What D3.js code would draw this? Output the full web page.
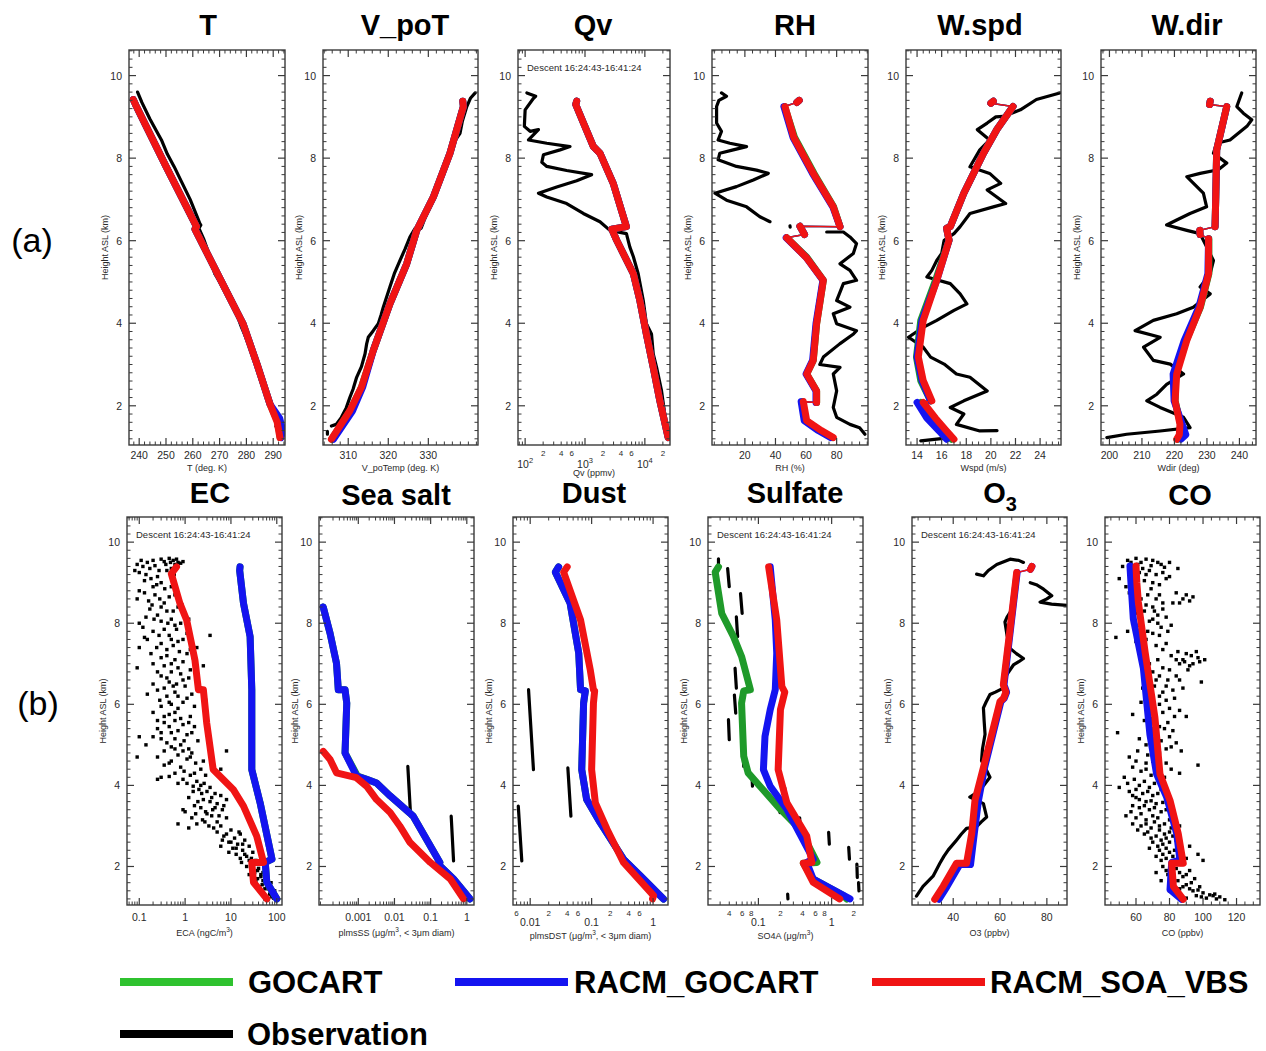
<!DOCTYPE html>
<html>
<head>
<meta charset="utf-8">
<script src="https://cdn.jsdelivr.net/npm/d3@7"></script>
<style>
body { margin: 0; background: #fff; }
text { font-family: "Liberation Sans", Arial, sans-serif; }
</style>
</head>
<body>
<svg id="chart" width="1266" height="1051"></svg>
<script>
// ---------- data: [value, height km]; null = break in the curve ----------
var tObs = [[239.4,9.6],[241,9.35],[244,8.95],[246.5,8.65],[248.3,8.44],[250.5,8.1],[253,7.8],[256,7.4],[259,7.0],[261.5,6.6],[262.6,6.42],[263,6.38],[262.3,6.3],[264,6.05],[266.5,5.6],[268.2,5.2],[270.5,4.95],[272.5,4.7],[274.5,4.47],[276.5,4.2],[278.2,3.9],[279.5,3.7],[282,3.3],[285,2.8],[288,2.3],[290,1.95],[291.5,1.6],[291,1.5]];
var tGocart = [[237.8,9.42],[238.6,9.3],[250,7.8],[261.4,6.34],[260.8,6.28],[270,5.1],[278.8,3.98],[284,3.0],[288.8,2.04],[291.8,1.6],[292.6,1.23]];
var tRacmGocart = [[237.8,9.42],[238.6,9.3],[250,7.8],[261.4,6.34],[260.8,6.28],[270,5.1],[278.8,3.98],[284,3.0],[288.8,2.04],[292.4,1.7],[293.6,1.4],[292.9,1.23]];
var tRacmSoa = [[237.8,9.42],[238.6,9.3],[250,7.8],[261.4,6.34],[260.8,6.28],[270,5.1],[278.8,3.98],[284,3.0],[288.8,2.04],[291.5,1.6],[292.5,1.23]];

var vObs = [[305.8,1.51],[307,1.55],[308.3,1.72],[309.5,1.95],[310.4,2.2],[311.2,2.4],[312.1,2.69],[313.3,2.95],[314.2,3.26],[314.6,3.5],[315,3.66],[316.25,3.82],[317.5,3.99],[318.2,4.2],[318.75,4.39],[320.4,4.88],[321.5,5.2],[322.9,5.52],[324.2,5.8],[325.4,6.09],[326.7,6.3],[328.2,6.3],[329.6,6.66],[331.25,7.06],[332,7.3],[333.3,7.47],[334.5,7.8],[335.4,8.04],[336.5,8.4],[337.9,8.6],[338.5,8.9],[339.6,9.25],[340.5,9.45],[341.7,9.58],null,[304.8,1.38],[304.8,1.31]];
var vGocart = [[305.9,1.19],[310.5,1.88],[313.3,2.45],[316.25,3.34],[320.4,4.47],[324.6,5.44],[327.1,6.25],[331.25,7.06],[335.4,8.12],[338.75,9.25],[338.6,9.38]];
var vRacmGocart = [[306.3,1.19],[311.1,1.88],[313.6,2.45],[316.25,3.34],[320.4,4.47],[324.6,5.44],[327.1,6.25],[331.25,7.06],[335.4,8.12],[338.75,9.25],[338.6,9.38]];
var vRacmSoa = [[305.8,1.19],[310.4,1.88],[313.3,2.45],[316.25,3.34],[320.4,4.47],[324.6,5.44],[327.1,6.25],[331.25,7.06],[335.4,8.12],[338.75,9.25],[338.6,9.38]];

var qvObs = [[107,9.58],[150,9.5],[138,9.45],[100,9.17],[97,8.77],[121,8.65],[167,8.69],[114,8.44],[230,8.36],[562,8.28],[383,8.2],[202,8.08],[190,7.9],[230,7.8],[494,7.7],[1290,7.6],[726,7.45],[337,7.3],[167,7.15],[230,7.06],[494,6.9],[937,6.66],[1778,6.46],[2610,6.25],[4920,6.17],[5600,5.85],[6430,5.61],[7740,5.2],[9400,4.55],[10600,3.99],[12900,3.74],[13800,3.26],[15700,2.93],[19000,2.36],[21500,1.8],[22800,1.39]];
var qvGocart = [[726,9.38],[700,9.3],[1380,8.28],[1778,8.12],[2960,7.39],[4920,6.34],[2800,6.28],[2960,6.2],[3380,6.01],[6430,5.2],[8250,4.55],[10600,3.74],[13800,2.93],[17800,2.12],[24500,1.23]];
var qvRacmGocart = [[726,9.38],[700,9.3],[1380,8.28],[1778,8.12],[2960,7.39],[4920,6.34],[2800,6.28],[2960,6.2],[3380,6.01],[6430,5.2],[8250,4.55],[10600,3.74],[13800,2.93],[17800,2.12],[24500,1.23]];
var qvRacmSoa = [[726,9.38],[700,9.3],[1380,8.28],[1778,8.12],[2960,7.39],[4920,6.34],[2800,6.28],[2960,6.2],[3380,6.01],[6430,5.2],[8250,4.55],[10600,3.74],[13800,2.93],[17800,2.12],[24500,1.23]];

var rhObs = [[4.7,9.58],[8,9.5],[3,9.4],[1.5,9.25],[1.5,8.85],[4.7,8.65],[2.5,8.44],[10.2,8.36],[21.1,8.28],[12.4,8.2],[3.6,8.12],[2.5,7.96],[14.5,7.8],[27.6,7.71],[35.3,7.63],[25.5,7.47],[14.5,7.31],[0.4,7.15],[8,6.98],[21.1,6.82],[29.8,6.58],[36.4,6.46],null,[49.5,6.36],[49.6,6.33],null,[73.5,6.21],[84.4,6.21],[88.7,6.09],[93,5.93],[90.9,5.69],[82.2,5.44],[88.7,5.28],[93,5.04],[84.4,4.96],[80,4.55],[88.7,4.39],[77.8,4.23],[80,3.99],[93,3.82],[91,3.74],[82,3.5],[71.3,3.18],[69,3.0],[82.2,2.93],[77.8,2.77],[80,2.36],[77.8,1.96],[80,1.72],[88.7,1.55],[95,1.47],[98.5,1.31]];
var rhGocart = [[55.5,9.4],[54,9.35],null,[46,9.25],[52.5,8.5],[65.2,7.63],[78,6.82],[82.2,6.34],null,[56,6.35],[59,6.15],null,[47.3,6.07],[60.5,5.6],[71.3,5.04],[66.9,3.99],[64.7,3.1],[60.4,2.77],[66.9,2.36],[66.9,2.08],null,[57.5,2.1],[59.8,1.64],[69,1.4],[77,1.23]];
var rhRacmGocart = [[55.5,9.4],[54,9.35],null,[45.5,9.25],[51.5,8.5],[64.2,7.63],[77.5,6.82],[82.2,6.34],null,[56,6.35],[59,6.15],null,[47,6.07],[60,5.6],[71,5.04],[66.5,3.99],[64.3,3.1],[60,2.77],[66.5,2.36],[66.5,2.08],null,[56.8,2.1],[58.8,1.64],[68,1.4],[76,1.23]];
var rhRacmSoa = [[55.5,9.4],[54,9.35],null,[46.2,9.25],[52,8.5],[64.7,7.63],[77.8,6.82],[82.2,6.34],null,[56,6.35],[59,6.15],null,[47.3,6.07],[60,5.6],[71.3,5.04],[66.9,3.99],[64.7,3.1],[60.4,2.77],[66.9,2.36],[66.9,2.08],null,[58.2,2.1],[60.4,1.64],[70,1.4],[77.8,1.23]];

var wsObs = [[25.6,9.58],[23.7,9.42],[22.4,9.17],[21.0,9.01],[20.4,9.0],[19.7,8.85],[18.9,8.69],[19.9,8.44],[19.1,8.2],[18.3,7.79],[19.9,7.63],[20.8,7.39],[19.7,7.23],[21.2,6.9],[20.2,6.82],[18.3,6.66],[17.5,6.34],[17.0,6.17],[16.2,6.01],[16.0,5.69],[15.6,5.52],[15.2,5.28],[14.8,5.12],[16.7,4.96],[17.5,4.71],[18.05,4.47],[17.0,4.31],[15.6,4.07],[14.5,3.9],[13.3,3.66],[14.5,3.42],[15.1,3.18],[16.2,3.01],[17.2,2.77],[18.3,2.69],[19.7,2.36],[17.8,2.12],[16.7,1.96],[17.8,1.8],[17.2,1.55],[19.1,1.39],[20.5,1.4],null,[16.7,1.23],[14.3,1.15]];
var wsGocart = [[20.2,9.38],[20.0,9.33],null,[21.8,9.25],[20.5,8.7],[19.4,8.12],[17.8,7.15],[16.7,6.34],[16.4,6.3],[16.6,6.01],[15.5,5.04],[14.3,4.07],[13.95,3.18],[14.3,2.61],[15.1,2.12],null,[14.3,2.08],[15.2,1.7],[16.2,1.39],[16.8,1.19]];
var wsRacmGocart = [[20.2,9.38],[20.0,9.33],null,[21.8,9.25],[20.5,8.7],[19.4,8.12],[17.8,7.15],[16.7,6.34],[16.4,6.3],[16.6,6.01],[15.6,5.04],[14.4,4.07],[14.0,3.18],[14.4,2.61],[15.1,2.12],null,[14.0,2.08],[14.8,1.7],[15.8,1.39],[16.4,1.19]];
var wsRacmSoa = [[20.2,9.38],[20.0,9.33],null,[21.8,9.25],[20.5,8.7],[19.4,8.12],[17.8,7.15],[16.7,6.34],[16.4,6.3],[16.6,6.01],[15.6,5.04],[14.5,4.07],[14.1,3.18],[14.5,2.61],[15.2,2.12],null,[14.5,2.08],[15.5,1.7],[16.4,1.39],[17,1.19]];

var wdObs = [[240.7,9.58],[239.2,9.25],[241.2,9.09],[243.8,8.93],[242.3,8.77],[237.1,8.44],[233,8.36],[232,8.12],[236.1,7.88],[233.5,7.72],[227.9,7.63],[223.8,7.55],[228.9,7.15],[229.9,6.82],[224.8,6.66],[220.7,6.5],[217.6,6.38],[223.8,6.25],[227.9,6.17],[229.9,5.85],[232,5.52],[231,5.2],[227.9,4.88],[231,4.71],[225.8,4.39],[220.7,4.23],[213.5,4.07],[207.9,3.82],[215.6,3.66],[210.5,3.42],[213.5,3.1],[218.7,3.01],[222.8,2.77],[217.6,2.52],[214.6,2.28],[211.5,2.12],[215.6,1.96],[222.8,1.72],[224.8,1.47],[215.6,1.39],[205.3,1.31],[199.2,1.23]];
var wdGocart = [[231,9.38],[230.8,9.3],null,[236.1,9.25],[233,8.2],[232.7,7.0],[232.5,6.34],null,[227.8,6.25],[227.9,6.15],null,[230.6,6.05],[230.6,5.2],[228,4.39],[223.6,3.58],[220.4,2.77],[220.2,2.12],[221.9,1.55],[221.7,1.3],[220.9,1.19]];
var wdRacmGocart = [[231,9.38],[230.8,9.3],null,[236.1,9.25],[233,8.2],[232.7,7.0],[232.5,6.34],null,[227.8,6.25],[227.9,6.15],null,[230.5,6.05],[230.3,5.2],[227.5,4.39],[223,3.58],[219.6,2.77],[219.9,2.12],[222.4,1.55],[223.5,1.3],[222,1.19]];
var wdRacmSoa = [[231,9.38],[230.8,9.3],null,[236.1,9.25],[233,8.2],[232.7,7.0],[232.5,6.34],null,[227.8,6.25],[227.9,6.15],null,[230.5,6.05],[230.5,5.2],[227.9,4.39],[223.8,3.58],[220.7,2.77],[220.2,2.12],[221.7,1.55],[221.5,1.3],[220.7,1.19]];

var ecObs = [[0.09,9.45],[0.12,9.4],[0.15,9.5],[0.2,9.55],[0.3,9.58],[0.35,9.52],[0.45,9.6],[0.55,9.55],[0.6,9.45],[0.5,9.35],[0.7,9.5],[0.8,9.48],[0.1,9.25],[0.14,9.2],[0.18,9.1],[0.25,9.15],[0.4,9.3],[0.3,9.0],[0.2,8.9],
  [0.1,8.8],[0.13,8.75],[0.22,8.7],[0.28,8.6],[0.35,8.5],[0.45,8.65],[0.6,8.7],[0.7,8.4],[0.4,8.3],[0.25,8.2],[0.17,8.35],[0.1,8.0],[0.12,7.9],[0.3,8.05],[0.5,8.1],[0.8,8.0],[1.2,8.1],[0.35,7.85],[0.6,7.95],
  [0.2,7.8],[0.45,7.7],[0.9,7.6],[1.1,7.75],[3.5,7.7],[0.3,7.5],[0.55,7.45],[0.1,7.4],[0.15,7.6],[0.75,7.3],[1.3,7.35],[0.4,7.2],[0.6,7.1],[0.9,7.05],[1.5,7.15],[2.5,6.95],[0.35,6.95],[0.2,7.0],
  [0.09,6.9],[0.5,6.8],[0.8,6.75],[1.2,6.65],[0.3,6.7],[0.45,6.55],[0.65,6.5],[1.0,6.45],[1.8,6.55],[2.2,6.4],[0.25,6.35],[0.6,6.3],[0.4,6.2],[0.15,6.25],[1.1,6.15],[2.8,6.1],[0.9,6.05],[0.5,6.0],[0.3,5.95],[0.7,5.9],
  [0.2,5.8],[0.45,5.75],[1.3,5.7],[0.6,5.6],[0.35,5.55],[0.9,5.5],[1.6,5.45],[0.25,5.4],[0.5,5.3],[1.1,5.25],[0.3,5.15],[0.2,5.2],[0.1,5.2],[0.14,5.0],[0.4,5.05],[0.8,5.0],[1.9,5.1],[0.6,4.9],[0.9,4.85],[1.4,4.8],[8,4.85],
  [0.25,4.7],[0.09,4.7],[0.5,4.6],[1.1,4.65],[1.7,4.55],[0.35,4.5],[0.8,4.45],[2.2,4.4],[0.6,4.3],[1.3,4.25],[0.3,4.2],[0.45,4.22],[0.9,4.15],[1.8,4.1],[2.6,4.05],[0.7,4.05],[1.5,3.98],[6,4.4],
  [2.0,3.9],[3.0,3.85],[4.5,3.8],[6,3.75],[1.2,3.7],[2.5,3.65],[3.5,3.6],[5,3.55],[7,3.5],[1.6,3.5],[2.2,3.45],[4,3.4],[1.0,3.35],[0.9,3.4],[3,3.3],[5.5,3.25],[1.4,3.2],[2.4,3.15],[8,3.2],[1.8,3.05],[3.3,3.0],[0.7,3.05],[5,3.1],[1.2,2.95],
  [10,2.9],[15,2.85],[8,2.8],[12,2.7],[20,2.65],[9,2.6],[14,2.55],[25,2.5],[11,2.45],[18,2.4],[30,2.35],[13,2.3],[22,2.25],[6,2.5],[28,2.2],[35,2.15],[17,2.1],[40,2.05],[45,2.2],
  [30,1.95],[38,1.9],[50,1.85],[25,1.8],[45,1.75],[60,1.7],[35,1.65],[55,1.6],[70,1.55],[42,1.5],[65,1.45],[80,1.4],[48,1.35],[75,1.3],[90,1.4],[60,1.25],[85,1.22],[55,1.2],
  [0.08,9.3],[0.11,9.55],[0.17,9.35],[0.22,9.42],[0.27,9.3],[0.38,9.45],[0.48,9.5],[0.65,9.58],[0.9,9.52],[0.58,9.2],[0.13,9.05],[0.24,8.95],[0.36,8.85],[0.5,8.9],[0.09,8.6],[0.16,8.55],[0.19,8.45],[0.3,8.4],[0.55,8.3],[0.85,8.45],[0.14,8.15],[0.21,8.1],[0.42,8.0],[0.65,7.85],[0.27,7.7],[0.13,7.65],[0.5,7.6],[0.7,7.55],[0.24,7.4],[0.4,7.35],[1.8,7.4],[0.18,7.25],[0.3,7.15],[1.1,7.25],[0.5,7.0],[0.7,6.9],[1.3,6.85],[0.25,6.8],[0.4,6.65],[0.9,6.6],[0.55,6.45],[0.35,6.4],[0.2,6.5],[0.7,6.2],[1.4,6.25],[0.28,6.1],[0.45,6.05],[1.6,5.95],[0.6,5.8],[0.35,5.7],[0.8,5.65],[0.25,5.6],[1.2,5.55],[0.45,5.45],[0.7,5.35],[0.3,5.3],[1.4,5.3],[0.6,5.15],[0.95,5.1],[0.5,4.95],[1.2,4.9],[0.35,4.85],[0.7,4.75],[1.3,4.7],[2.5,4.6],[0.45,4.55],[0.95,4.35],[1.6,4.3],[2.8,4.25],[0.25,4.15],[1.1,4.05],[2.2,4.0],[3.5,3.95],[1.5,3.85],[2.3,3.8],[3.8,3.7],[8,3.65],[1.9,3.6],[4.5,3.45],[6.5,3.4],[2.8,3.35],[3.8,3.25],[1.7,3.3],[6,3.0],[2.7,3.1],[4.2,2.95],[5,2.85],[7,2.75],[16,2.8],[10,2.6],[6.5,2.65],[18,2.55],[13,2.45],[9,2.35],[20,2.3],[16,2.2],[25,2.15],[30,2.05],[22,2.0],[40,1.95],[28,1.9],[55,1.9],[33,1.85],[45,1.8],[60,1.75],[38,1.7],[50,1.65],[75,1.6],[48,1.55],[60,1.5],[55,1.45],[85,1.35],[70,1.32],[95,1.28],[65,1.2],[78,1.25]];
var ecGocart = [[15.8,9.39],[15.5,9.3],[18.8,8.49],[26.2,7.67],[28.5,6.36],[28.5,4.39],[43.3,3.57],[78.6,2.18],[56,2.1],[60.6,1.61],[100,1.2]];
var ecRacmGocart = [[15.8,9.39],[15.5,9.3],[18.8,8.49],[26.2,7.67],[28.5,6.36],[28.5,4.39],[43.3,3.57],[78.6,2.18],[56,2.1],[60.6,1.61],[100,1.2]];
var ecRacmSoa = [[0.65,9.39],[0.5,9.22],[0.77,8.49],[1.08,8.08],[1.64,7.09],[1.95,6.36],[2.5,6.36],[2.96,5.54],[4.1,4.39],[6.7,4.15],[11.2,3.9],[18.8,3.49],[36.5,2.75],[51.4,2.1],[28.5,2.1],[31,1.61],[60.6,1.2]];

var ssObs = [[0.0234,4.47],[0.028,3.24],null,[0.37,3.24],[0.43,2.14]];
var ssGocart = [[1.07e-4,8.4],[1.66e-4,7.75],[2.5e-4,7.01],[2.8e-4,6.36],[4.3e-4,6.36],[4.8e-4,6.03],[4.3e-4,4.8],[9.5e-4,4.23],[1.7e-3,4.15],[3.2e-3,4.06],[7.6e-3,3.74],[0.033,3.24],[0.18,2.1],[0.16,2.06],[0.43,1.69],[1.23,1.2]];
var ssRacmGocart = [[1.07e-4,8.4],[1.66e-4,7.75],[2.5e-4,7.01],[2.8e-4,6.36],[4.3e-4,6.36],[4.8e-4,6.03],[4.3e-4,4.8],[8.9e-4,4.23],[1.7e-3,4.15],[3.2e-3,4.06],[7.6e-3,3.74],[0.033,3.24],[0.18,2.1],[0.16,2.06],[0.43,1.69],[1.23,1.2]];
var ssRacmSoa = [[1.07e-4,4.84],[1.66e-4,4.64],[2.5e-4,4.31],[8.9e-4,4.19],[1.7e-3,3.98],[3.2e-3,3.65],[7.6e-3,3.33],[0.014,3.0],[0.027,2.59],[0.098,2.1],[0.35,1.69],[0.81,1.2]];

var dustObs = [[0.0094,6.36],[0.0113,4.39],null,[0.041,4.43],[0.046,3.24],null,[0.0064,3.49],[0.0073,2.14]];
var dustGocart = [[0.029,9.39],[0.0257,9.26],[0.0447,8.49],[0.0617,7.26],[0.066,6.36],[0.079,6.33],[0.074,6.03],[0.069,4.39],[0.083,3.65],[0.138,3.08],[0.33,2.18],[0.62,1.77],[1.48,1.2]];
var dustRacmGocart = [[0.029,9.39],[0.0257,9.26],[0.0447,8.49],[0.0617,7.26],[0.066,6.36],[0.079,6.33],[0.074,6.03],[0.069,4.39],[0.083,3.65],[0.138,3.08],[0.33,2.18],[0.62,1.77],[1.48,1.2]];
var dustRacmSoa = [[0.04,9.39],[0.035,9.26],[0.066,8.08],[0.095,6.85],[0.107,6.36],[0.112,6.33],[0.107,6.03],[0.1,4.39],[0.115,3.57],[0.178,2.92],[0.33,2.1],[1.02,1.28],[0.98,1.2]];

var so4Obs = [[0.0285,9.59],[0.0285,9.43],null,[0.038,9.35],[0.04,8.9],null,[0.057,8.73],[0.06,8.24],null,[0.05,8.16],[0.052,7.67],null,[0.048,6.89],[0.05,6.4],null,[0.047,6.23],[0.049,5.78],null,[0.039,5.62],[0.04,5.13],null,[0.062,4.72],[0.063,4.47],null,[0.082,4.19],[0.083,3.98],null,[0.229,3.94],[0.232,3.7],null,[0.195,3.57],[0.197,3.33],null,[0.366,3.2],[0.37,2.96],null,[0.91,2.84],[0.93,2.55],null,[1.71,2.47],[1.75,2.18],null,[2.21,2.06],[2.24,1.73],null,[2.33,1.6],[2.36,1.4],null,[0.251,1.32],[0.253,1.2]];
var so4Gocart = [[0.0285,9.39],[0.0257,9.26],[0.0316,8.24],[0.0457,7.67],[0.0589,7.18],[0.0776,6.36],[0.063,6.33],[0.0589,6.03],[0.063,4.72],[0.0724,4.31],[0.105,3.98],[0.2,3.41],[0.37,2.92],[0.63,2.1],[0.41,2.08],[0.56,1.69],[1.45,1.28],[1.6,1.2]];
var so4RacmGocart = [[0.145,9.39],[0.17,8.08],[0.178,7.26],[0.17,6.36],[0.145,5.87],[0.123,5.21],[0.117,4.39],[0.145,3.98],[0.245,3.41],[0.56,2.18],[0.457,2.1],[0.56,1.69],[1.78,1.2]];
var so4RacmSoa = [[0.138,9.39],[0.178,8.08],[0.209,6.44],[0.229,6.3],[0.2,5.87],[0.186,4.39],[0.245,3.57],[0.457,2.75],[0.537,2.1],[0.41,2.08],[0.56,1.61],[1.29,1.2]];

var o3Obs = [[50,9.21],[52.9,9.17],[55,9.3],[58.6,9.45],[64.3,9.58],[68,9.55],[70,9.5],null,[72.9,9.0],[75.5,8.95],[78.6,8.84],[82.1,8.68],[80,8.6],[77.1,8.52],[82,8.47],[88.6,8.44],null,[64.3,8.27],[63,8.15],[62.1,8.03],[63,7.7],[64.3,7.38],[67,7.25],[70,7.13],[68,7.05],[65.7,6.97],[62.9,6.73],[61.4,6.4],[58,6.3],[55.7,6.24],[54,6.05],[52.9,5.91],[53.2,5.6],[53.6,5.26],[52.5,4.9],[52.1,4.61],[54,4.4],[55.7,4.2],[53,4.0],[51.4,3.87],[47.1,3.71],[52.9,3.55],[54.3,3.22],[52,3.1],[50,2.98],[45.7,2.94],[43.5,2.8],[41.4,2.65],[37.9,2.41],[36,2.25],[34.3,2.08],[31.4,1.76],[29,1.62],[27.1,1.51],[24.3,1.27]];
var o3RacmGocart = [[73.6,9.4],[73,9.33],null,[67.3,9.25],[64.5,7.87],[61.7,6.48],[62.8,6.3],[61.8,6.15],[60.4,6.07],[53.4,4.44],[50.8,3.63],[49,2.81],[47.4,2.05],[42.8,2.05],[37.4,1.51],[33.9,1.19]];
var o3RacmSoa = [[73.6,9.4],[73,9.33],null,[67.1,9.25],[64.3,7.87],[61.4,6.48],[62.5,6.3],[61.5,6.15],[60,6.07],[52.9,4.44],[49.3,3.63],[47.9,2.81],[45.7,2.08],[41.4,2.08],[35.7,1.51],[32.1,1.19]];

var coObs = [[52,9.4],[55,9.55],[60,9.6],[63,9.5],[66,9.58],[70,9.55],[75,9.45],[80,9.5],[68,9.3],[72,9.2],[62,9.25],[50,9.1],[58,9.0],[65,9.05],[78,9.1],[85,9.35],[74,8.95],[54,8.9],
  [60,8.8],[67,8.7],[72,8.6],[76,8.5],[84,8.75],[88,8.6],[92,8.55],[86,8.5],[94,8.65],[70,8.4],[65,8.3],[73,8.2],[78,8.15],[68,8.05],[58,8.0],[62,7.95],[75,7.9],[81,7.95],[48,7.65],[55,7.8],
  [70,7.75],[66,7.6],[74,7.7],[78,7.5],[64,7.45],[60,7.55],[85,7.3],[90,7.25],[93,7.2],[96,7.3],[88,7.1],[98,7.05],[101,7.1],[92,6.95],[86,7.0],[73,7.1],[76,6.9],[68,7.0],[80,6.85],
  [84,6.7],[72,6.6],[66,6.5],[78,6.45],[88,6.4],[99,6.55],[76,6.3],[70,6.2],[83,6.15],[63,6.05],[74,6.0],[58,5.75],[80,5.9],[86,5.85],[65,5.6],[90,5.7],
  [72,5.5],[77,5.4],[82,5.35],[68,5.25],[49,5.3],[62,5.15],[75,5.1],[84,5.05],[70,4.95],[78,4.9],[87,4.85],
  [56,4.7],[60,4.6],[66,4.55],[72,4.5],[81,4.4],[97,4.5],[63,4.35],[69,4.25],[77,4.2],[59,4.15],[65,4.1],[71,4.05],[53,4.2],[62,4.0],[68,3.95],[50,3.95],[75,3.9],
  [56,3.85],[64,3.8],[70,3.75],[60,3.7],[66,3.6],[72,3.55],[79,3.5],[58,3.5],[62,3.45],[68,3.4],[75,3.35],[82,3.3],[54,3.25],[60,3.2],[66,3.15],[71,3.1],[77,3.05],[86,3.0],[63,3.0],[69,2.95],[74,2.9],[80,2.85],[65,2.8],[72,2.75],[78,2.7],[84,2.65],[70,2.6],[76,2.55],[92,2.5],[68,2.45],
  [74,2.4],[80,2.35],[86,2.3],[72,2.25],[78,2.2],[90,2.2],[97,2.3],[100,2.15],[76,2.0],[84,1.95],[92,1.9],[72,1.85],[79,1.8],[88,1.75],[95,1.7],[75,1.65],[82,1.6],[90,1.55],[98,1.5],[86,1.45],[94,1.4],[100,1.35],[104,1.3],[107,1.32],[110,1.25],[102,1.22],[96,1.28],[113,1.18],[84,1.3],
  [57,9.5],[61,9.45],[64,9.35],[69,9.42],[73,9.5],[77,9.38],[59,9.15],[66,9.2],[70,9.0],[76,9.25],[80,9.15],[56,8.75],[63,8.6],[69,8.85],[74,8.7],[82,8.5],[90,8.7],[66,8.45],[71,8.3],[76,8.35],[60,8.25],[70,8.1],[64,7.9],[73,8.0],[79,7.8],[67,7.8],[72,7.45],[76,7.35],[81,7.2],[84,7.1],[89,7.05],[94,7.0],[97,7.15],[91,6.85],[70,6.8],[74,6.7],[79,6.6],[86,6.6],[64,6.4],[71,6.45],[82,6.35],[74,6.2],[78,6.1],[68,5.95],[76,5.8],[83,5.7],[70,5.65],[79,5.55],[74,5.45],[69,5.4],[80,5.2],[73,5.2],[66,5.0],[81,4.95],[61,4.85],[74,4.8],[67,4.75],[70,4.6],[78,4.55],[58,4.45],[66,4.4],[74,4.35],[86,4.3],[55,4.05],[60,3.9],[67,3.85],[73,3.8],[58,3.75],[62,3.65],[69,3.62],[76,3.58],[65,3.5],[71,3.45],[78,3.4],[57,3.35],[63,3.3],[70,3.25],[73,3.2],[80,3.15],[58,3.05],[66,3.05],[74,3.0],[81,2.95],[61,2.9],[67,2.85],[77,2.8],[82,2.75],[69,2.7],[75,2.65],[80,2.6],[73,2.5],[78,2.45],[83,2.4],[76,2.3],[82,2.25],[75,2.15],[87,2.05],[81,2.0],[78,1.9],[86,1.85],[90,1.8],[80,1.7],[85,1.65],[93,1.6],[88,1.5],[92,1.45],[80,1.4],[97,1.42],[99,1.25],[106,1.28],[108,1.2],[90,1.22]];
var coRacmGocart = [[56.4,9.41],[57,9.0],[58.4,8.11],[64.4,6.89],[68.3,5.26],[72.3,4.28],[78.3,3.71],[84.3,2.81],[86.2,2.16],[81.3,2.1],[80.3,1.43],[87.2,1.19]];
var coRacmSoa = [[60,9.41],[60.5,9.0],[61.4,8.52],[65.4,7.3],[71.3,5.67],[74.3,4.28],[80.3,3.63],[85.2,2.81],[88.2,2.08],[81.3,2.08],[82.3,1.51],[88.2,1.19]];

// tick values
var heightTicks = [2, 4, 6, 8, 10];
var tTicks = [240, 250, 260, 270, 280, 290];
var vTicks = [310, 320, 330];
var qvTicks = [100, 1000, 10000];
var qvMinorLabels = [200, 400, 600, 2000, 4000, 6000, 20000];
var rhTicks = [20, 40, 60, 80];
var wsTicks = [14, 16, 18, 20, 22, 24];
var wdTicks = [200, 210, 220, 230, 240];
var ecTicks = [0.1, 1, 10, 100];
var ssTicks = [0.001, 0.01, 0.1, 1];
var dustTicks = [0.01, 0.1, 1];
var dustMinorLabels = [0.006, 0.02, 0.04, 0.06, 0.2, 0.4, 0.6];
var so4Ticks = [0.1, 1];
var so4MinorLabels = [0.04, 0.06, 0.08, 0.2, 0.4, 0.6, 0.8, 2];
var o3Ticks = [40, 60, 80];
var coTicks = [60, 80, 100, 120];

// ---------- layout ----------
var svg = d3.select("#chart");
var rows = { a: { top: 50, bottom: 445, titleY: 35 }, b: { top: 517, bottom: 905, titleY: 503 } };
var heightDomain = [1.05, 10.62];
var descent = "Descent 16:24:43-16:41:24";

var panels = [
  { title: "T", titleX: 208, row: "a", x0: 129, x1: 285, domain: [236.2, 294.4], ticks: tTicks, minor: 2,
    label: ["T (deg. K)"], obs: tObs, green: tGocart, blue: tRacmGocart, red: tRacmSoa },
  { title: "V_poT", titleX: 405, row: "a", x0: 323, x1: 478, domain: [303.7, 342.4], ticks: vTicks, minor: 2,
    label: ["V_poTemp (deg. K)"], obs: vObs, green: vGocart, blue: vRacmGocart, red: vRacmSoa },
  { title: "Qv", titleX: 593, row: "a", x0: 518, x1: 670, log: true, domain: [76, 26300], ticks: qvTicks, power: true,
    minorLabels: qvMinorLabels, label: ["Qv (ppmv)"], labelDy: 5, desc: true,
    obs: qvObs, green: qvGocart, blue: qvRacmGocart, red: qvRacmSoa },
  { title: "RH", titleX: 795, row: "a", x0: 712, x1: 868, domain: [-1.5, 100.5], ticks: rhTicks, minor: 5,
    label: ["RH (%)"], obs: rhObs, green: rhGocart, blue: rhRacmGocart, red: rhRacmSoa },
  { title: "W.spd", titleX: 980, row: "a", x0: 906, x1: 1061, domain: [13.1, 25.7], ticks: wsTicks, minor: 0.5,
    label: ["Wspd (m/s)"], obs: wsObs, green: wsGocart, blue: wsRacmGocart, red: wsRacmSoa },
  { title: "W.dir", titleX: 1187, row: "a", x0: 1101, x1: 1256, domain: [197.4, 245.1], ticks: wdTicks, minor: 2,
    label: ["Wdir (deg)"], obs: wdObs, green: wdGocart, blue: wdRacmGocart, red: wdRacmSoa },
  { title: "EC", titleX: 210, row: "b", x0: 127, x1: 282, log: true, domain: [0.054, 130], ticks: ecTicks,
    label: ["ECA (ngC/m", "3", ")"], desc: true, dots: true,
    obs: ecObs, green: ecGocart, blue: ecRacmGocart, red: ecRacmSoa },
  { title: "Sea salt", titleX: 396, row: "b", x0: 319, x1: 474, log: true, domain: [8.2e-5, 1.58], ticks: ssTicks,
    label: ["plmsSS (\u03bcg/m", "3", ", < 3\u03bcm diam)"], obs: ssObs, green: ssGocart, blue: ssRacmGocart, red: ssRacmSoa },
  { title: "Dust", titleX: 594, row: "b", x0: 513, x1: 668, log: true, domain: [0.00525, 1.75], ticks: dustTicks,
    minorLabels: dustMinorLabels, label: ["plmsDST (\u03bcg/m", "3", ", < 3\u03bcm diam)"], labelDy: 3,
    obs: dustObs, green: dustGocart, blue: dustRacmGocart, red: dustRacmSoa },
  { title: "Sulfate", titleX: 795, row: "b", x0: 708, x1: 863, log: true, domain: [0.0205, 2.68], ticks: so4Ticks,
    minorLabels: so4MinorLabels, label: ["SO4A (\u03bcg/m", "3", ")"], labelDy: 3, desc: true,
    obs: so4Obs, green: so4Gocart, blue: so4RacmGocart, red: so4RacmSoa },
  { title: "O", sub: "3", titleX: 1000, row: "b", x0: 912, x1: 1067, domain: [22.4, 88.6], ticks: o3Ticks, minor: 5,
    label: ["O3 (ppbv)"], desc: true, obs: o3Obs, blue: o3RacmGocart, red: o3RacmSoa },
  { title: "CO", titleX: 1190, row: "b", x0: 1105, x1: 1260, domain: [41.5, 134], ticks: coTicks, minor: 5,
    label: ["CO (ppbv)"], dots: true, obs: coObs, blue: coRacmGocart, red: coRacmSoa }
];

var colors = { green: "#1f9a2a", blue: "#1414f0", red: "#f01414", obs: "#000" };

function minorValues(p) {
  var out = [];
  var d0 = p.domain[0], d1 = p.domain[1];
  if (p.log) {
    for (var e = Math.floor(Math.log10(d0)); e <= Math.ceil(Math.log10(d1)); e++) {
      for (var k = 2; k <= 9; k++) {
        var v = k * Math.pow(10, e);
        if (v > d0 && v < d1) out.push(v);
      }
    }
  } else {
    var s = p.minor;
    for (var v2 = Math.ceil(d0 / s) * s; v2 < d1; v2 += s) {
      var r = Math.round(v2 * 1000) / 1000;
      if (p.ticks.indexOf(r) < 0) out.push(r);
    }
  }
  return out;
}

function fmtLog(v) {
  if (v >= 1) return String(v);
  return String(+v.toPrecision(1));
}

panels.forEach(function(p, i) {
  var r = rows[p.row];
  var x = (p.log ? d3.scaleLog() : d3.scaleLinear()).domain(p.domain).range([p.x0, p.x1]);
  var y = d3.scaleLinear().domain(heightDomain).range([r.bottom, r.top]);
  var g = svg.append("g");
  var w = p.x1 - p.x0, h = r.bottom - r.top;

  svg.append("clipPath").attr("id", "clip" + i)
    .append("rect").attr("x", p.x0).attr("y", r.top).attr("width", w).attr("height", h);
  var plot = g.append("g").attr("clip-path", "url(#clip" + i + ")");

  var broken = d3.line().defined(function(d) { return d !== null; })
    .x(function(d) { return x(d[0]); }).y(function(d) { return y(d[1]); });
  var joined = d3.line().x(function(d) { return x(d[0]); }).y(function(d) { return y(d[1]); });

  // observations
  if (p.dots) {
    plot.selectAll("rect.obs").data(p.obs).enter().append("rect")
      .attr("class", "obs")
      .attr("x", function(d) { return x(d[0]) - 1.7; })
      .attr("y", function(d) { return y(d[1]) - 1.7; })
      .attr("width", 3.4).attr("height", 3.4)
      .attr("fill", colors.obs);
  } else {
    plot.append("path").attr("d", broken(p.obs))
      .attr("fill", "none").attr("stroke", colors.obs).attr("stroke-width", 3.2)
      .attr("stroke-linejoin", "round").attr("stroke-linecap", "round");
  }

  // model runs: green, blue, red (red on top); thin connectors across the breaks
  ["green", "blue", "red"].forEach(function(key) {
    var s = p[key];
    if (!s) return;
    var pts = s.filter(function(d) { return d !== null; });
    plot.append("path").attr("d", joined(pts))
      .attr("fill", "none").attr("stroke", colors[key]).attr("stroke-width", 1.5);
    plot.append("path").attr("d", broken(s))
      .attr("fill", "none").attr("stroke", colors[key]).attr("stroke-width", 7)
      .attr("stroke-linejoin", "round").attr("stroke-linecap", "round");
  });

  // frame
  g.append("rect").attr("x", p.x0).attr("y", r.top).attr("width", w).attr("height", h)
    .attr("fill", "none").attr("stroke", "#3a3a3a").attr("stroke-width", 1.4);

  var tickCol = "#3a3a3a";
  p.ticks.forEach(function(v) {
    var px = x(v);
    g.append("line").attr("x1", px).attr("x2", px).attr("y1", r.bottom).attr("y2", r.bottom - 7).attr("stroke", tickCol).attr("stroke-width", 1.2);
    g.append("line").attr("x1", px).attr("x2", px).attr("y1", r.top).attr("y2", r.top + 7).attr("stroke", tickCol).attr("stroke-width", 1.2);
  });
  minorValues(p).forEach(function(v) {
    var px = x(v);
    g.append("line").attr("x1", px).attr("x2", px).attr("y1", r.bottom).attr("y2", r.bottom - 3.5).attr("stroke", tickCol).attr("stroke-width", 1);
    g.append("line").attr("x1", px).attr("x2", px).attr("y1", r.top).attr("y2", r.top + 3.5).attr("stroke", tickCol).attr("stroke-width", 1);
  });
  for (var hv = 1.2; hv < 10.61; hv += 0.2) {
    var hr = Math.round(hv * 10) / 10;
    var major = heightTicks.indexOf(hr) >= 0;
    var len = major ? 7 : 3.5;
    var py = y(hr);
    g.append("line").attr("x1", p.x0).attr("x2", p.x0 + len).attr("y1", py).attr("y2", py).attr("stroke", tickCol).attr("stroke-width", major ? 1.2 : 1);
    g.append("line").attr("x1", p.x1).attr("x2", p.x1 - len).attr("y1", py).attr("y2", py).attr("stroke", tickCol).attr("stroke-width", major ? 1.2 : 1);
  }

  heightTicks.forEach(function(v) {
    g.append("text").attr("x", p.x0 - 7).attr("y", y(v) + 4).attr("text-anchor", "end")
      .attr("font-size", 10.5).attr("fill", "#2a2a2a").text(v);
  });
  g.append("text").attr("transform", "translate(" + (p.x0 - 21) + "," + (r.top + h / 2) + ") rotate(-90)")
    .attr("text-anchor", "middle").attr("font-size", 9).attr("fill", "#2a2a2a").text("Height ASL (km)");

  var hasMinorLab = !!p.minorLabels;
  var majY = r.bottom + (hasMinorLab ? (p.power ? 23 : 21) : (p.row === "a" ? 14 : 16));
  p.ticks.forEach(function(v) {
    var t = g.append("text").attr("x", x(v)).attr("y", majY).attr("text-anchor", "middle")
      .attr("font-size", 10.5).attr("fill", "#2a2a2a");
    if (p.power) {
      t.append("tspan").text("10");
      t.append("tspan").attr("dy", -5).attr("font-size", 7.5).text(Math.round(Math.log10(v)));
    } else {
      t.text(p.log ? fmtLog(v) : v);
    }
  });
  if (hasMinorLab) {
    p.minorLabels.forEach(function(v) {
      var k = Math.round(v / Math.pow(10, Math.floor(Math.log10(v) + 1e-9)));
      g.append("text").attr("x", x(v)).attr("y", r.bottom + 11).attr("text-anchor", "middle")
        .attr("font-size", 8).attr("fill", "#2a2a2a").text(k);
    });
  }
  var lab = g.append("text").attr("x", (p.x0 + p.x1) / 2)
    .attr("y", r.bottom + (p.row === "a" ? 26 : 31) + (p.labelDy || 0))
    .attr("text-anchor", "middle").attr("font-size", 9).attr("fill", "#2a2a2a");
  lab.append("tspan").text(p.label[0]);
  if (p.label.length > 1) {
    lab.append("tspan").attr("dy", -4).attr("font-size", 6.5).text(p.label[1]);
    lab.append("tspan").attr("dy", 4).text(p.label[2]);
  }

  if (p.desc) {
    g.append("text").attr("x", p.x0 + 9).attr("y", r.top + 21).attr("font-size", 9.5)
      .attr("fill", "#2a2a2a").text(descent);
  }

  var tt = g.append("text").attr("x", p.titleX).attr("y", r.titleY + (p.title === "Sea salt" || p.title === "CO" ? 2 : 0))
    .attr("text-anchor", "middle").attr("font-size", 29).attr("font-weight", "bold").attr("fill", "#000");
  tt.append("tspan").text(p.title);
  if (p.sub) tt.append("tspan").attr("dy", 8).attr("font-size", 20).text(p.sub);
});

svg.append("text").attr("x", 32).attr("y", 252).attr("text-anchor", "middle").attr("font-size", 34).text("(a)");
svg.append("text").attr("x", 38).attr("y", 715).attr("text-anchor", "middle").attr("font-size", 34).text("(b)");

var legendItems = [
  { name: "GOCART", color: "#2fc22f", x: 120, y: 982, dx: 128 },
  { name: "RACM_GOCART", color: "#1414f0", x: 455, y: 982, dx: 119 },
  { name: "RACM_SOA_VBS", color: "#f01414", x: 872, y: 982, dx: 118 },
  { name: "Observation", color: "#000", x: 120, y: 1034, dx: 127 }
];
var leg = svg.append("g");
legendItems.forEach(function(d) {
  leg.append("line").attr("x1", d.x).attr("x2", d.x + 113).attr("y1", d.y).attr("y2", d.y)
    .attr("stroke", d.color).attr("stroke-width", 8);
  leg.append("text").attr("x", d.x + d.dx).attr("y", d.y + 11)
    .attr("font-size", 31).attr("font-weight", "bold").text(d.name);
});
</script>
</body>
</html>
